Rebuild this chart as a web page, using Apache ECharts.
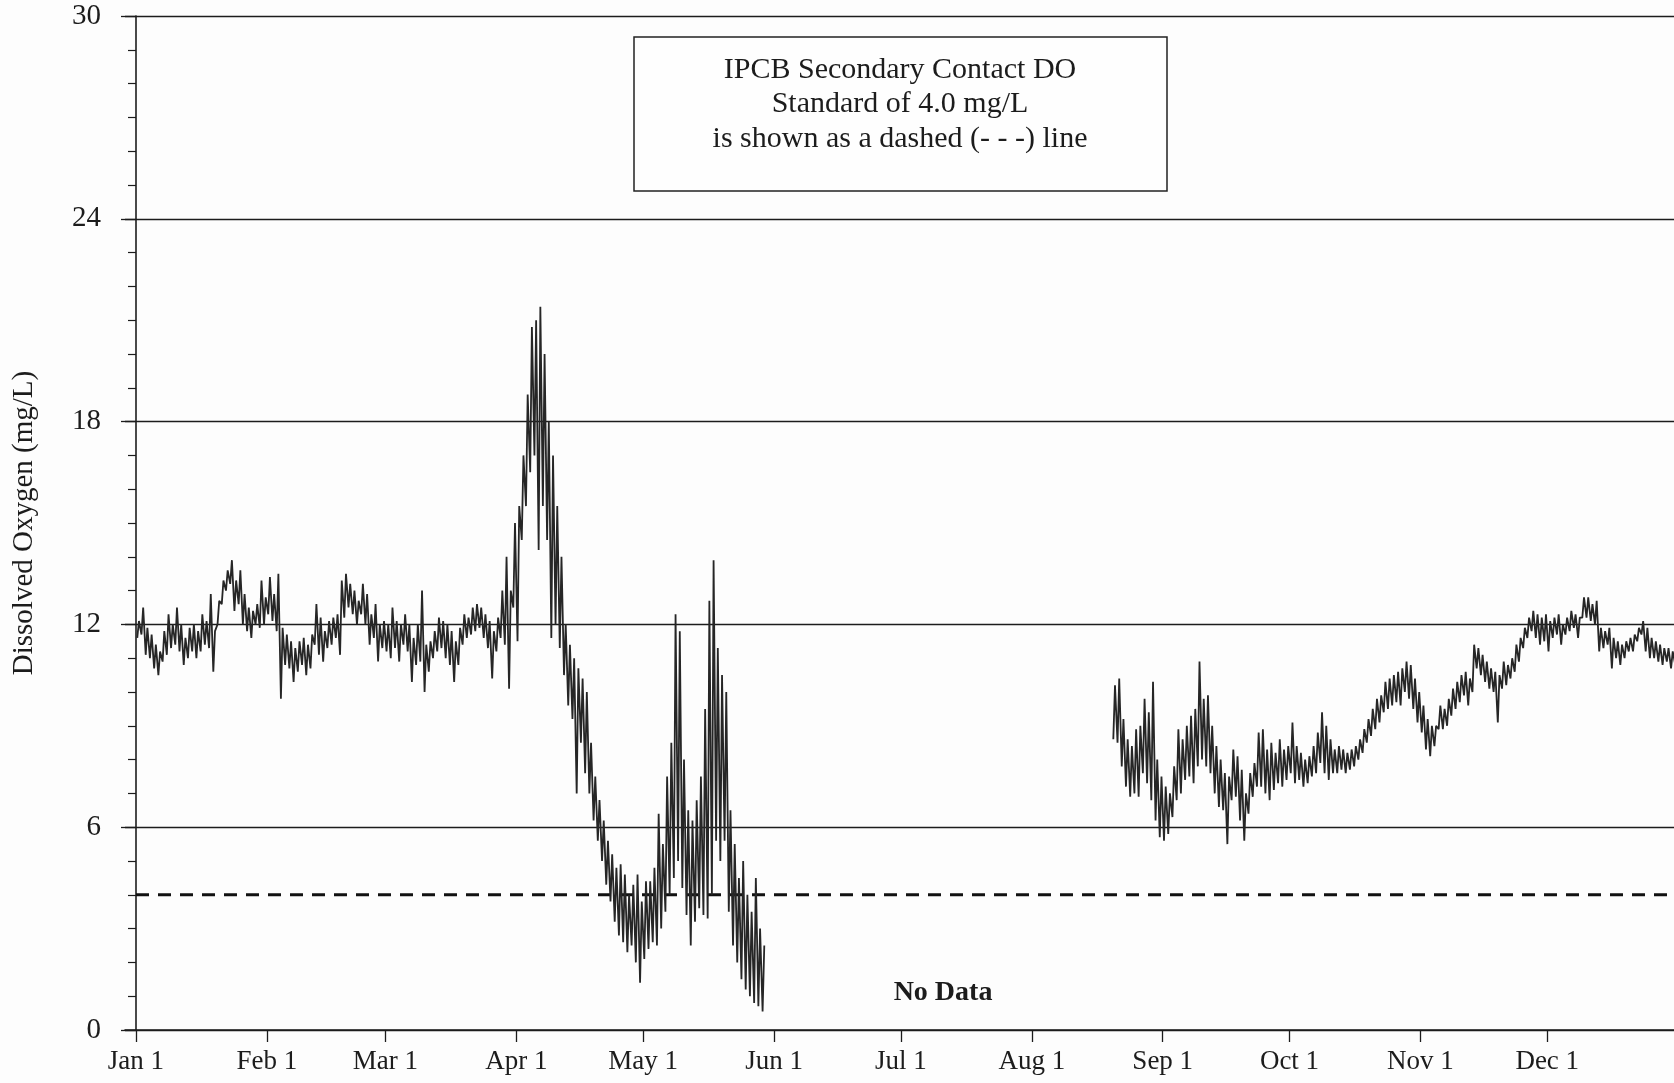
<!DOCTYPE html>
<html><head><meta charset="utf-8">
<script src="https://cdn.jsdelivr.net/npm/echarts@6/dist/echarts.min.js"></script>
<style>html,body{margin:0;padding:0;background:#fdfdfd}#chart{width:1674px;height:1083px}</style>
</head><body><div id="chart"></div>
<script>
// ---- data ----
const monthDays = [0, 31, 59, 90, 120, 151, 181, 212, 243, 273, 304, 334];
const monthLabels = ['Jan 1', 'Feb 1', 'Mar 1', 'Apr 1', 'May 1', 'Jun 1', 'Jul 1', 'Aug 1', 'Sep 1', 'Oct 1', 'Nov 1', 'Dec 1'];
const yTickValues = [0, 6, 12, 18, 24, 30];
const standardDO = 4.0;
const noteLines = ['IPCB Secondary Contact DO', 'Standard of 4.0 mg/L', 'is shown as a dashed (- - -) line'];
const noDataText = 'No Data';
const noDataAt = [191, 1.1];

// Spring record: one daily low and daily high per day, starting Jan 1 (day 0)
const springStartDay = 0;
const springLow = [
  11.6, 11.7, 11.1, 11.0, 10.7, 10.5, 10.9, 11.1, 11.3, 11.4,
  11.2, 10.8, 11.0, 11.2, 11.0, 11.2, 11.4, 11.3, 10.6, 12.0,
  12.6, 13.0, 13.2, 12.4, 12.6, 12.0, 11.8, 11.6, 12.0, 11.9,
  12.0, 12.3, 12.1, 11.8, 9.8, 10.8, 10.7, 10.3, 10.6, 10.8,
  10.5, 10.7, 11.4, 11.1, 10.9, 11.3, 11.4, 11.6, 11.1, 12.2,
  12.5, 12.3, 12.0, 12.3, 12.0, 11.4, 11.6, 10.9, 11.3, 11.2,
  11.0, 11.3, 10.9, 11.4, 11.2, 10.3, 10.8, 10.9, 10.0, 10.6,
  11.0, 11.2, 11.3, 11.0, 10.8, 10.3, 10.8, 11.4, 11.6, 11.7,
  11.8, 11.9, 11.6, 11.3, 10.4, 11.2, 11.6, 11.4, 10.1, 12.5,
  11.5, 14.5, 15.5, 16.5, 17.0, 14.2, 15.5, 14.5, 11.6, 12.0,
  11.3, 10.5, 9.6, 9.2, 7.0, 8.5, 7.6, 7.0, 6.2, 5.6,
  5.0, 4.3, 3.8, 3.2, 2.8, 2.6, 2.3, 2.5, 2.0, 1.4,
  2.1, 2.4, 2.6, 2.5, 3.0, 3.5, 4.0, 4.5, 5.0, 4.2,
  3.4, 2.5, 3.2, 3.6, 3.4, 3.3, 4.0, 5.6, 5.0, 5.6,
  3.5, 2.5, 2.0, 1.5, 1.2, 1.0, 0.8, 0.7, 0.55
];
const springHigh = [
  12.1, 12.5, 11.9, 11.7, 11.4, 11.2, 11.8, 12.3, 12.0, 12.5,
  12.0, 11.6, 11.9, 12.0, 11.8, 12.3, 12.1, 12.9, 11.8, 12.7,
  13.3, 13.6, 13.9, 13.3, 13.6, 12.9, 12.5, 12.4, 12.6, 13.3,
  12.8, 13.4, 12.9, 13.5, 11.9, 11.7, 11.5, 11.3, 11.5, 11.6,
  11.4, 11.7, 12.6, 12.2, 11.8, 12.1, 12.2, 12.3, 13.3, 13.5,
  13.2, 13.0, 12.7, 13.2, 12.9, 12.3, 12.6, 12.0, 12.1, 12.0,
  12.5, 12.1, 12.0, 12.3, 12.0, 11.6, 12.0, 13.0, 11.4, 11.5,
  11.8, 12.2, 12.1, 12.0, 11.8, 11.5, 11.9, 12.3, 12.2, 12.5,
  12.6, 12.5, 12.3, 12.1, 11.8, 12.2, 13.0, 14.0, 13.0, 15.0,
  15.5, 17.0, 18.8, 20.8, 21.0, 21.4, 20.0, 18.0, 17.0, 15.5,
  14.0, 12.0, 11.4, 11.0, 10.7, 10.4, 10.0, 8.5, 7.5, 6.8,
  6.2, 5.6, 5.2, 4.8, 4.9, 4.6, 4.0, 4.3, 4.6, 3.8,
  4.4, 4.4, 4.8, 6.4, 5.5, 7.5, 8.5, 12.3, 11.8, 8.0,
  6.5, 6.2, 6.8, 7.5, 9.5, 12.7, 13.9, 11.3, 10.5, 10.0,
  6.5, 5.5, 4.5, 5.0, 4.0, 3.5, 4.5, 3.0, 2.5
];

// Late-summer / fall record, starting Aug 19 (day 231)
const fallStartDay = 231;
const fallLow = [
  8.6, 8.5, 7.8, 7.2, 6.9, 7.0, 6.9, 7.6, 7.3, 6.8,
  6.2, 5.7, 5.6, 5.8, 6.3, 6.8, 7.0, 7.4, 7.5, 7.3,
  7.8, 8.0, 7.8, 7.6, 7.0, 6.6, 6.5, 5.5, 6.8, 6.9,
  6.2, 5.6, 6.4, 6.9, 7.2, 7.2, 7.0, 6.8, 7.1, 7.3,
  7.2, 7.4, 7.6, 7.3, 7.4, 7.2, 7.3, 7.5, 7.6, 7.9,
  7.6, 7.4, 7.6, 7.6, 7.7, 7.6, 7.7, 7.8, 8.0, 8.2,
  8.5, 8.7, 8.9, 9.1, 9.4, 9.5, 9.6, 9.7, 9.6, 10.0,
  9.8, 9.5, 9.1, 8.8, 8.3, 8.1, 8.4, 8.9, 8.9, 9.0,
  9.3, 9.5, 9.7, 9.9, 9.6, 10.0, 10.7, 10.5, 10.3, 10.1,
  10.0, 9.1, 10.1, 10.2, 10.4, 10.6, 10.9, 11.3, 11.6, 11.8,
  11.6, 11.4, 11.5, 11.2, 11.6, 11.7, 11.4, 11.7, 11.8, 11.9,
  11.6, 12.2, 12.2, 12.1, 12.0, 11.2, 11.3, 11.4, 10.7, 11.0,
  10.8, 11.0, 11.2, 11.2, 11.5, 11.7, 11.2, 11.0, 11.0, 10.9,
  10.8, 10.9, 10.7, 10.8
];
const fallHigh = [
  10.2, 10.4, 9.2, 8.6, 8.4, 8.9, 9.0, 9.8, 9.4, 10.3,
  8.0, 7.5, 7.2, 7.0, 7.8, 8.9, 8.6, 9.0, 9.3, 9.5,
  10.9, 9.8, 9.9, 9.0, 8.4, 8.0, 7.6, 7.5, 8.3, 8.1,
  7.7, 7.0, 7.6, 7.9, 8.8, 8.9, 8.3, 8.5, 8.2, 8.6,
  8.3, 8.4, 9.1, 8.4, 8.2, 8.0, 8.1, 8.4, 8.8, 9.4,
  9.0, 8.6, 8.3, 8.4, 8.3, 8.2, 8.3, 8.4, 8.6, 8.9,
  9.2, 9.5, 9.8, 9.9, 10.3, 10.4, 10.5, 10.6, 10.7, 10.9,
  10.8, 10.4, 10.0, 9.6, 9.2, 9.0, 9.0, 9.6, 9.5, 9.8,
  10.1, 10.3, 10.5, 10.6, 10.4, 11.4, 11.3, 11.1, 10.9, 10.7,
  10.6, 10.5, 10.9, 10.8, 11.0, 11.4, 11.6, 11.9, 12.2, 12.4,
  12.3, 12.2, 12.3, 12.1, 12.2, 12.3, 12.0, 12.2, 12.4, 12.3,
  12.2, 12.8, 12.8, 12.6, 12.7, 11.9, 11.8, 11.9, 11.6, 11.5,
  11.4, 11.5, 11.6, 11.7, 11.9, 12.1, 11.9, 11.6, 11.5, 11.4,
  11.3, 11.3, 11.2, 11.3
];

// ---- build ----
function buildTrace(startDay, lows, highs) {
  const out = [];
  for (let i = 0; i < lows.length; i++) {
    const d = startDay + i;
    out.push([d + 0.3, lows[i]]);
    out.push([d + 0.7, highs[i]]);
  }
  return out;
}

const serif = '"Liberation Serif", "Times New Roman", serif';
const ink = '#1c1c1c';
const chart = echarts.init(document.getElementById('chart'), null, {renderer: 'canvas'});

const traceStyle = {color: '#262626', width: 1.8};
chart.setOption({
  backgroundColor: '#fdfdfd',
  animation: false,
  grid: {left: 125, right: 0, top: 16, bottom: 53, containLabel: false},
  xAxis: {
    type: 'value', min: -2.6, max: 364,
    axisLine: {show: true, onZero: false, lineStyle: {color: ink, width: 1.6}},
    axisTick: {show: true, customValues: monthDays, length: 12, lineStyle: {color: ink, width: 1.3}},
    axisLabel: {
      customValues: monthDays,
      formatter: v => monthLabels[monthDays.indexOf(Math.round(v))] || '',
      margin: 18, fontFamily: serif, fontSize: 27, color: ink
    },
    splitLine: {show: false}
  },
  yAxis: {
    type: 'value', min: yTickValues[0], max: yTickValues[yTickValues.length - 1], interval: 6,
    name: 'Dissolved Oxygen (mg/L)', nameLocation: 'middle', nameGap: 86,
    nameTextStyle: {fontFamily: serif, fontSize: 29, color: ink},
    axisLine: {show: true, lineStyle: {color: ink, width: 1.6}},
    axisTick: {show: true, length: 15, lineStyle: {color: ink, width: 1.3}},
    minorTick: {show: true, splitNumber: 6, length: 8, lineStyle: {color: ink, width: 1.2}},
    axisLabel: {margin: 24, fontFamily: serif, fontSize: 29, color: ink},
    splitLine: {show: true, lineStyle: {color: ink, width: 1.3}}
  },
  series: [
    {type: 'line', data: buildTrace(springStartDay, springLow, springHigh), showSymbol: false, symbol: 'none', lineStyle: traceStyle, z: 3},
    {type: 'line', data: buildTrace(fallStartDay, fallLow, fallHigh), showSymbol: false, symbol: 'none', lineStyle: traceStyle, z: 3},
    {type: 'line', data: [[monthDays[0], standardDO], [364, standardDO]], showSymbol: false, symbol: 'none',
     lineStyle: {color: '#111', width: 3, type: [13, 9]}, z: 2}
  ]
});

const np = chart.convertToPixel({gridIndex: 0}, noDataAt);
chart.setOption({
  graphic: [
    {type: 'rect', shape: {x: 634, y: 37, width: 533, height: 154},
     style: {fill: '#fefefe', stroke: '#222', lineWidth: 1.5}, z: 10},
    ...noteLines.map((t, i) => ({
      type: 'text', x: 900, y: 70 + i * 34.5, z: 11,
      style: {text: t, fill: ink, font: '30px ' + serif, textAlign: 'center', textVerticalAlign: 'middle'}
    })),
    {type: 'text', x: np[0], y: np[1], z: 11,
     style: {text: noDataText, fill: ink, font: 'bold 28px ' + serif, textAlign: 'center', textVerticalAlign: 'middle'}}
  ]
});
</script>
</body></html>
